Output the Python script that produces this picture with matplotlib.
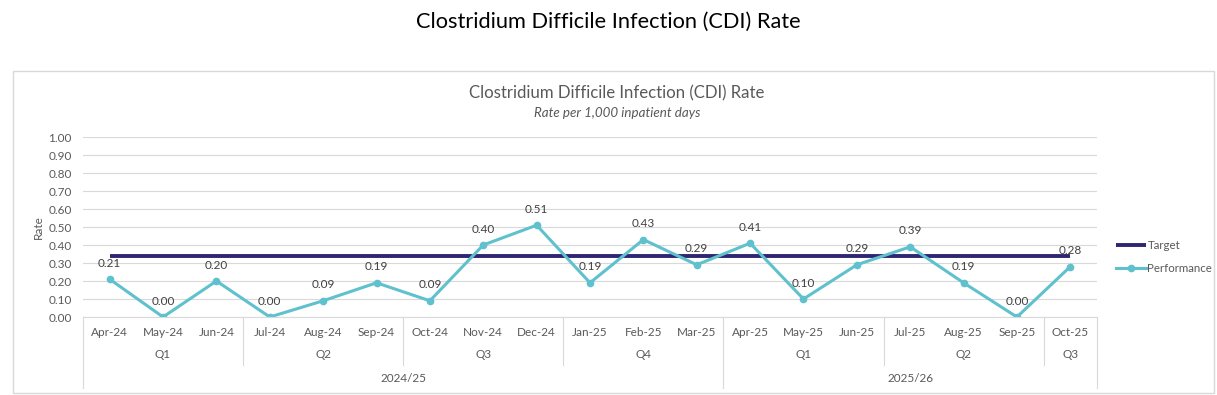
import matplotlib.pyplot as plt
import matplotlib.transforms as mtransforms
from matplotlib.patches import Rectangle
import numpy as np

plt.rcParams['font.family'] = ['Lato', 'DejaVu Sans']

months = ['Apr-24', 'May-24', 'Jun-24', 'Jul-24', 'Aug-24', 'Sep-24', 'Oct-24', 'Nov-24', 'Dec-24',
          'Jan-25', 'Feb-25', 'Mar-25', 'Apr-25', 'May-25', 'Jun-25', 'Jul-25', 'Aug-25', 'Sep-25', 'Oct-25']
performance = [0.21, 0.00, 0.20, 0.00, 0.09, 0.19, 0.09, 0.40, 0.51, 0.19, 0.43, 0.29,
               0.41, 0.10, 0.29, 0.39, 0.19, 0.00, 0.28]
target = [0.34] * 19
quarters = ['Q1', 'Q2', 'Q3', 'Q4', 'Q1', 'Q2', 'Q3']
quarter_sizes = [3, 3, 3, 3, 3, 3, 1]
years = ['2024/25', '2025/26']
year_sizes = [12, 7]

W, H = 1217, 395
fig = plt.figure(figsize=(W / 100, H / 100), dpi=100)
txt = '#595959'
grid_c = '#D9D9D9'

# outer chart border
fig.patches.append(Rectangle((13 / W, 2 / H), 1201 / W, 322 / H, transform=fig.transFigure,
                             fill=False, edgecolor=grid_c, linewidth=1))

fig.text(0.5, 1 - 22 / H, 'Clostridium Difficile Infection (CDI) Rate', ha='center', va='center',
         fontsize=15.7, color='black')
fig.text(617 / W, 1 - 93 / H, 'Clostridium Difficile Infection (CDI) Rate', ha='center', va='center',
         fontsize=12.1, color=txt)
fig.text(617 / W, 1 - 113 / H, 'Rate per 1,000 inpatient days', ha='center', va='center',
         fontsize=9.6, color=txt, style='italic')

ax = fig.add_axes([83 / W, (H - 317) / H, (1097 - 83) / W, 180 / H])
x = np.arange(len(months))
ax.set_xlim(-0.5, len(months) - 0.5)
ax.set_ylim(0, 1)
ax.set_yticks(np.arange(0, 1.01, 0.1))
ax.set_yticklabels([f'{v:.2f}' for v in np.arange(0, 1.01, 0.1)])
ax.grid(axis='y', color=grid_c, linewidth=0.8)
ax.set_axisbelow(True)
for s in ['top', 'right', 'left']:
    ax.spines[s].set_visible(False)
ax.spines['bottom'].set_color(grid_c)
ax.tick_params(axis='y', length=0, labelsize=8.5, labelcolor=txt, pad=8)
ax.set_ylabel('Rate', fontsize=8.5, color=txt, labelpad=3)

ax.set_xticks(x)
ax.set_xticklabels(months)
ax.tick_params(axis='x', length=0, labelsize=8.5, labelcolor=txt, pad=7)

ax.plot(x, target, color='#2E2672', linewidth=2.8, label='Target', solid_capstyle='butt')
ax.plot(x, performance, color='#5FC1CD', linewidth=2.2, marker='o', markersize=4.5,
        label='Performance')
for xi, v in zip(x, performance):
    ax.annotate(f'{v:.2f}', (xi, v), xytext=(0, 7.5), textcoords='offset points',
                ha='center', va='bottom', fontsize=8.5, color='#404040')

# hierarchical category axis
tr = mtransforms.blended_transform_factory(ax.transData, ax.transAxes)
q_bottom = -48 / 180
y_bottom = -71 / 180
start = 0
bounds_q = [0]
for q, n in zip(quarters, quarter_sizes):
    ax.text(start + (n - 1) / 2, -37 / 180, q, transform=tr, ha='center', va='center',
            fontsize=8.5, color=txt)
    start += n
    bounds_q.append(start)
start = 0
bounds_y = [0]
for yl, n in zip(years, year_sizes):
    ax.text(start + (n - 1) / 2, -61 / 180, yl, transform=tr, ha='center', va='center',
            fontsize=8.5, color=txt)
    start += n
    bounds_y.append(start)
for b in bounds_q:
    bot = y_bottom if b in bounds_y else q_bottom
    ax.plot([b - 0.5, b - 0.5], [0, bot], transform=tr, color=grid_c, linewidth=0.8, clip_on=False)

ax.legend(loc='center left', bbox_to_anchor=(1106 / W, 1 - 257 / H), bbox_transform=fig.transFigure,
          frameon=False, fontsize=8.3, labelcolor=txt, handlelength=2.6, handletextpad=0.1,
          labelspacing=1.0)

fig.savefig('out.png', dpi=100, facecolor='white')
